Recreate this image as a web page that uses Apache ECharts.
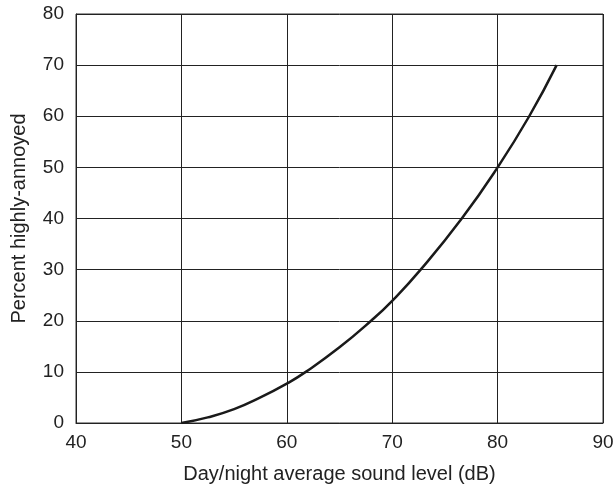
<!DOCTYPE html>
<html>
<head>
<meta charset="utf-8">
<script src="https://cdn.jsdelivr.net/npm/echarts@6/dist/echarts.min.js"></script>
<style>html,body{margin:0;padding:0;background:#fff;}#c{width:615px;height:485px;}</style>
</head>
<body>
<div id="c"></div>
<script>
// Sound level (dB) and percent highly annoyed
const soundLevel = [50, 52.5, 55, 57.5, 60, 61.8, 65, 68, 70, 72.7, 76.6, 80, 83, 85.6];
const pctAnnoyed = [0, 1.1, 2.7, 5.0, 7.7, 10.0, 14.8, 20.0, 23.9, 30.0, 40.0, 50.0, 60.0, 70.0];
const xTicks = [40, 50, 60, 70, 80, 90];
const yTicks = [0, 10, 20, 30, 40, 50, 60, 70, 80];

const chart = echarts.init(document.getElementById('c'), null, {renderer: 'canvas'});
const font = 'Liberation Sans, Arial, Helvetica, sans-serif';
chart.setOption({
  animation: false,
  backgroundColor: '#fff',
  grid: {left: 76, right: 12, top: 14, bottom: 62, show: true, borderColor: '#333', borderWidth: 1,
         containLabel: false, outerBoundsMode: 'none'},
  xAxis: {
    type: 'value', min: xTicks[0], max: xTicks[xTicks.length - 1], interval: 10,
    name: 'Day/night average sound level (dB)', nameLocation: 'middle', nameGap: 41,
    nameTextStyle: {fontFamily: font, fontSize: 20, color: '#222'},
    axisLine: {show: true, lineStyle: {color: '#222', width: 1}},
    axisTick: {show: false},
    axisLabel: {fontFamily: font, fontSize: 19, color: '#222', margin: 10},
    splitLine: {show: true, lineStyle: {color: '#222', width: 1}}
  },
  yAxis: {
    type: 'value', min: yTicks[0], max: yTicks[yTicks.length - 1], interval: 10,
    name: 'Percent highly-annoyed', nameLocation: 'middle', nameGap: 47, nameRotate: 90,
    nameTextStyle: {fontFamily: font, fontSize: 20, color: '#222'},
    axisLine: {show: true, lineStyle: {color: '#222', width: 1}},
    axisTick: {show: false},
    axisLabel: {fontFamily: font, fontSize: 19, color: '#222', margin: 12},
    splitLine: {show: true, lineStyle: {color: '#222', width: 1}}
  },
  series: [{
    type: 'line',
    data: soundLevel.map((x, i) => [x, pctAnnoyed[i]]),
    smooth: 0.5,
    showSymbol: false,
    symbol: 'none',
    lineStyle: {color: '#1a1a1a', width: 2.5},
    z: 5
  }]
});
</script>
</body>
</html>
